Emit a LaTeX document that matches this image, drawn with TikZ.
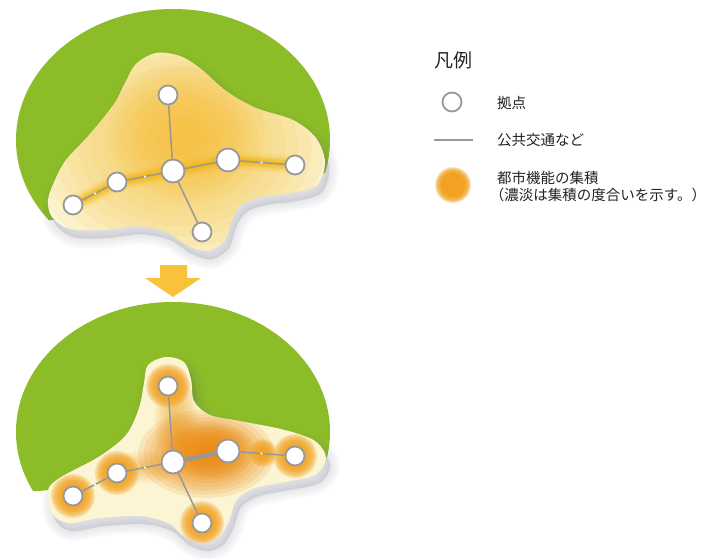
\documentclass[tikz,border=0pt]{standalone}
\usepackage{fontspec}
\newfontfamily\jpfont{Noto Sans CJK JP}
\usetikzlibrary{calc}

\definecolor{fieldgreen}{RGB}{140,189,40}
\definecolor{creamA}{RGB}{252,247,220}
\definecolor{creamB}{RGB}{251,245,212}
\definecolor{goldglow}{RGB}{247,200,80}
\definecolor{goldcore}{RGB}{246,190,50}
\definecolor{goldband}{RGB}{242,182,14}
\definecolor{haloorange}{RGB}{242,162,34}
\definecolor{coreorange}{RGB}{237,140,18}
\definecolor{stopgray}{RGB}{152,152,152}
\definecolor{shadowgray}{RGB}{95,100,118}
\definecolor{arrowyellow}{RGB}{248,195,58}
\definecolor{legendtext}{RGB}{35,35,35}

% soft spot: stacked translucent ellipses, densest in the middle
% #1 colour, #2 centre, #3 x radius, #4 y radius, #5 opacity of one layer
\newcommand{\softspot}[5]{%
  \foreach \k in {1,...,12}{\fill[#1, opacity=#5] (#2) ellipse ({#3*\k/12} and {#4*\k/12});}}
% ring glow round a stop: #1 colour, #2 centre, #3 inner radius, #4 outer radius
\newcommand{\halospot}[4]{%
  \foreach \k in {0,...,9}{\fill[#1, opacity=0.24] (#2) circle ({#3+(#4-#3)*\k/9});}}

% outlines of the two settlement areas
\def\upperblob{plot[smooth cycle, tension=0.55] coordinates {
  (48,200) (55,180) (66,160) (90,134) (114,104) (125,83) (136,64) (156,53)
  (180,56) (201,69) (226,91) (256,108) (293,120) (316,138) (325,162)
  (317,185) (292,193) (261,197) (241,205) (231,222) (225,240) (208,251)
  (188,246) (166,232) (137,226) (103,230) (70,229) (52,217)}}
\def\lowerblob{plot[smooth cycle, tension=0.55] coordinates {
  (48,199) (58,188) (72,180) (100,165) (126,144) (139,117) (144,92) (148,74)
  (166,66) (184,71) (191,88) (194,110) (210,124) (240,130) (285,139)
  (315,150) (326,167) (315,184) (285,191) (255,197) (237,208) (229,230)
  (219,246) (203,252) (185,246) (168,232) (140,225) (100,227) (68,232) (52,222)}}

\tikzset{
  stopnode/.style={circle, draw=stopgray, fill=white, line width=1.8pt,
                   minimum size=19pt, inner sep=0pt},
  bigstop/.style={stopnode, minimum size=23pt},
  transit/.style={draw=stopgray, line width=1.5pt},
  mainline/.style={draw=stopgray, line width=4.5pt},
  legendlabel/.style={anchor=west, inner sep=0pt, text=legendtext,
                      font=\jpfont\fontsize{14.5}{17}\selectfont, align=left},
}

\begin{document}
\begin{tikzpicture}[x=1pt,y=-1pt]
\useasboundingbox (0,0) rectangle (723,559);
\fill[white] (0,0) rectangle (723,559);

% ================= present: spread-out settlement =================
\coordinate (uTp) at (168,95);
\coordinate (uC)  at (173,171);
\coordinate (uRB) at (228,160);
\coordinate (uFR) at (295,165);
\coordinate (uLM) at (117,182);
\coordinate (uFL) at (73,205);
\coordinate (uBt) at (202,232);

\begin{scope}
  \clip (0,0) -- (360,0) -- (360,172) -- (330,172) -- (40,222) -- (0,222) -- cycle;
  \fill[fieldgreen] (173,140) ellipse (157 and 131);
\end{scope}

\foreach \w in {20,16,12,8,4,1}{
  \filldraw[shadowgray, opacity=0.028, line width=\w pt, line join=round,
            shift={(4,8)}] \upperblob;}

\fill[creamA] \upperblob;
\begin{scope}
  \clip \upperblob;
  \softspot{goldglow}{182,146}{155}{120}{0.12}
  \softspot{goldcore}{186,132}{78}{70}{0.08}
  \foreach \w/\o in {18/0.12, 13/0.2, 9/0.35, 5/0.55}{
    \draw[goldband, line width=\w pt, opacity=\o, line cap=round, line join=round]
      (uFL) -- (uLM) -- (uC) -- (uRB) -- (uFR);}
\end{scope}

\node[stopnode] (nuTp) at (uTp) {};
\node[bigstop]  (nuC)  at (uC)  {};
\node[bigstop]  (nuRB) at (uRB) {};
\node[stopnode] (nuFR) at (uFR) {};
\node[stopnode] (nuLM) at (uLM) {};
\node[stopnode] (nuFL) at (uFL) {};
\node[stopnode] (nuBt) at (uBt) {};

\draw[transit] (nuFL) -- (nuLM);
\draw[transit] (nuLM) -- (nuC);
\draw[transit] (nuC) -- (nuRB);
\draw[transit] (nuRB) -- (nuFR);
\draw[transit] (nuC) -- (nuTp);
\draw[transit] (nuC) -- (nuBt);
\fill[white] ($(uFL)!0.5!(uLM)$) circle (1.1);
\fill[white] ($(uLM)!0.5!(uC)$) circle (1.1);
\fill[white] ($(uRB)!0.5!(uFR)$) circle (1.1);

% ================= arrow =================
\fill[arrowyellow] (160,265) -- (187,265) -- (187,278) -- (201,278) -- (173,297)
  -- (145,278) -- (160,278) -- cycle;

% ================= future: compact settlement =================
\begin{scope}[shift={(0,291)}]
\coordinate (lTp) at (168,95);
\coordinate (lC)  at (173,171);
\coordinate (lRB) at (228,160);
\coordinate (lFR) at (295,165);
\coordinate (lLM) at (117,182);
\coordinate (lFL) at (73,205);
\coordinate (lBt) at (202,232);

\begin{scope}
  \clip (0,0) -- (360,0) -- (360,166) -- (330,166) -- (40,200) -- (0,200) -- cycle;
  \fill[fieldgreen] (173,141) ellipse (157 and 130);
\end{scope}

\foreach \w in {20,16,12,8,4,1}{
  \filldraw[shadowgray, opacity=0.028, line width=\w pt, line join=round,
            shift={(4,8)}] \lowerblob;}

\fill[creamB] \lowerblob;
\begin{scope}
  \clip \lowerblob;
  \softspot{haloorange}{176,130}{22}{48}{0.07}
  \softspot{haloorange}{145,176}{42}{16}{0.05}
  \softspot{coreorange}{206,163}{68}{44}{0.15}
  \softspot{coreorange}{210,160}{44}{28}{0.12}
  \foreach \p in {lTp,lFR,lLM,lFL,lBt}{\halospot{haloorange}{\p}{10}{22}}
  \halospot{haloorange}{263,162}{3}{14}
\end{scope}

\node[stopnode] (nlTp) at (lTp) {};
\node[bigstop]  (nlC)  at (lC)  {};
\node[bigstop]  (nlRB) at (lRB) {};
\node[stopnode] (nlFR) at (lFR) {};
\node[stopnode] (nlLM) at (lLM) {};
\node[stopnode] (nlFL) at (lFL) {};
\node[stopnode] (nlBt) at (lBt) {};

\draw[transit] (nlFL) -- (nlLM);
\draw[transit] (nlLM) -- (nlC);
\draw[mainline] (nlC) -- (nlRB);
\draw[transit] (nlRB) -- (nlFR);
\draw[transit] (nlC) -- (nlTp);
\draw[transit] (nlC) -- (nlBt);
\fill[white] ($(lFL)!0.5!(lLM)$) circle (1.1);
\fill[white] ($(lLM)!0.5!(lC)$) circle (1.1);
\fill[white] ($(lRB)!0.5!(lFR)$) circle (1.1);
\end{scope}

% ================= legend =================
\node[anchor=west, inner sep=0pt, text=legendtext,
      font=\jpfont\fontsize{19}{22}\selectfont] (legTitle) at (434,60) {凡例};

\node[stopnode] (legStop) at (452,102) {};
\node[legendlabel] (legStopText) at (497,103) {拠点};

\coordinate (legLineA) at (434,140);
\coordinate (legLineB) at (473,140);
\draw[transit] (legLineA) -- (legLineB);
\node[legendlabel] (legLineText) at (497,140) {公共交通など};

\coordinate (legGlow) at (453,185);
\fill[haloorange] (legGlow) circle (12);
\halospot{haloorange}{legGlow}{12}{18}
\node[legendlabel] (legGlowText) at (497,187)
  {都市機能の集積\\\hspace*{-0.5em}（濃淡は集積の度合いを示す。）};
\end{tikzpicture}
\end{document}
